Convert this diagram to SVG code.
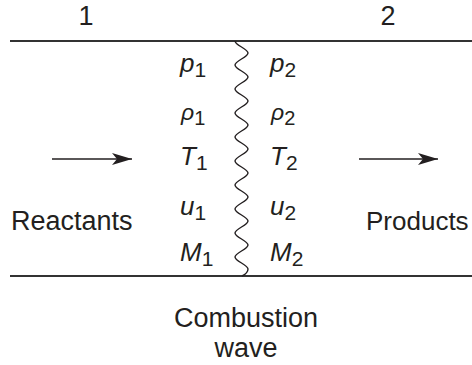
<svg xmlns="http://www.w3.org/2000/svg" width="472" height="365" viewBox="0 0 472 365">
<style>
.t{font-family:"Liberation Sans",Arial,sans-serif;fill:#231f20;font-size:27px}
.v{font-family:"Liberation Sans",Arial,sans-serif;fill:#231f20;font-size:26px;font-style:italic}
.s{font-size:21px;font-style:normal}
.ln{stroke:#333;stroke-width:2;fill:none}
.ar{stroke:#231f20;stroke-width:1.6;fill:none}
.wv{stroke:#231f20;stroke-width:1.4;fill:none}
</style>
<defs>
<marker id="ah" markerWidth="20" markerHeight="12" refX="20" refY="6" orient="auto" markerUnits="userSpaceOnUse">
<path d="M0,0 L20,6 L0,12 L5,6 Z" fill="#231f20"/>
</marker>
</defs>
<g id="section-labels">
<text class="t" x="86" y="25" text-anchor="middle">1</text>
<text class="t" x="388" y="25" text-anchor="middle">2</text>
</g>
<g id="walls">
<line class="ln" x1="10" y1="41" x2="472" y2="41"/>
<line class="ln" x1="10" y1="276" x2="472" y2="276"/>
</g>
<g id="combustion-wave">
<path class="wv" d="M235,41 c0,4.3 13,7.7 13,12 c0,4.3 -13,7.7 -13,12 c0,4.3 13,7.7 13,12 c0,4.3 -13,7.7 -13,12 c0,4.3 13,7.7 13,12 c0,4.3 -13,7.7 -13,12 c0,4.3 13,7.7 13,12 c0,4.3 -13,7.7 -13,12 c0,4.3 13,7.7 13,12 c0,4.3 -13,7.7 -13,12 c0,4.3 13,7.7 13,12 c0,4.3 -13,7.7 -13,12 c0,4.3 13,7.7 13,12 c0,4.3 -13,7.7 -13,12 c0,4.3 13,7.7 13,12 c0,4.3 -13,7.7 -13,12 c0,4.3 13,7.7 13,12 c0,4.3 -13,7.7 -13,12 c0,4.3 13,7.7 13,12 c0,3 -3,5.5 -6,7"/>
<text class="t" x="246" y="327" text-anchor="middle">Combustion</text>
<text class="t" x="246" y="357" text-anchor="middle">wave</text>
</g>
<g id="state-1">
<text class="v" x="180" y="72">p<tspan class="s" dy="5">1</tspan></text>
<text class="v" x="181" y="120" style="font-size:23px">ρ<tspan class="s" dy="5" style="font-size:20px">1</tspan></text>
<text class="v" x="180" y="165">T<tspan class="s" dy="5">1</tspan></text>
<text class="v" x="180" y="215">u<tspan class="s" dy="5">1</tspan></text>
<text class="v" x="180" y="261">M<tspan class="s" dy="5">1</tspan></text>
</g>
<g id="state-2">
<text class="v" x="270" y="72">p<tspan class="s" dy="5">2</tspan></text>
<text class="v" x="271" y="120" style="font-size:23px">ρ<tspan class="s" dy="5" style="font-size:20px">2</tspan></text>
<text class="v" x="270" y="165">T<tspan class="s" dy="5">2</tspan></text>
<text class="v" x="270" y="215">u<tspan class="s" dy="5">2</tspan></text>
<text class="v" x="270" y="261">M<tspan class="s" dy="5">2</tspan></text>
</g>
<g id="reactants">
<text class="t" x="11" y="230">Reactants</text>
</g>
<g id="products">
<text class="t" x="366" y="230" style="font-size:26px">Products</text>
</g>
<g id="connectors">
<line class="ar" x1="52" y1="159" x2="132" y2="159" marker-end="url(#ah)"/>
<line class="ar" x1="359" y1="159" x2="438" y2="159" marker-end="url(#ah)"/>
</g>
</svg>
